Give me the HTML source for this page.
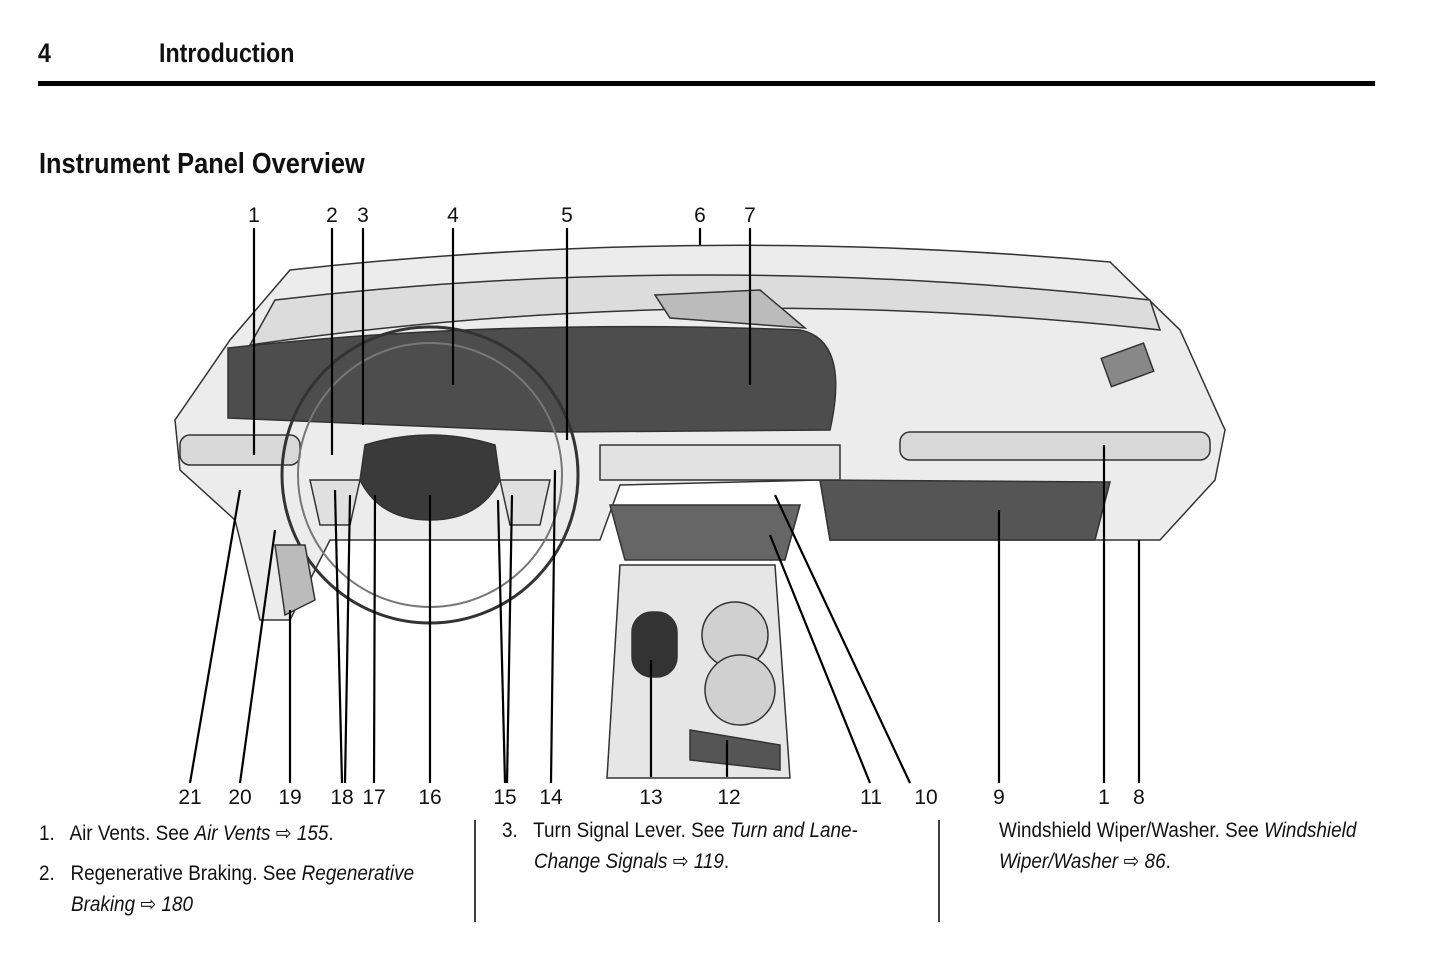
<!DOCTYPE html>
<html><head><meta charset="utf-8"><style>
body{margin:0;width:1445px;height:957px;background:#fff;position:relative;overflow:hidden;font-family:"Liberation Sans",sans-serif;color:#111}
.t{position:absolute;white-space:nowrap}
.h{font-weight:bold;font-size:27px;transform:scaleX(.86);transform-origin:left}
.b{font-size:21px;transform:scaleX(.9);transform-origin:left;line-height:31px}
i{font-style:italic}
</style></head><body>
<div class="t h" style="left:38px;top:38px">4</div>
<div class="t h" style="left:159px;top:38px">Introduction</div>
<div style="position:absolute;left:38px;top:81px;width:1337px;height:5px;background:#000"></div>
<div class="t h" style="left:39px;top:148px;font-size:29px;transform:scaleX(.875)">Instrument Panel Overview</div>
<svg width="1445" height="957" style="position:absolute;left:0;top:0" font-family="Liberation Sans" font-size="21" fill="#111">
<g stroke="#333" stroke-width="1.5">
<path d="M290 270 Q700 225 1110 262 L1180 330 L1225 430 L1215 480 L1160 540 L830 540 L820 480 L620 485 L600 540 L330 540 L290 620 L260 620 L235 520 L180 470 L175 420 L230 340 Z" fill="#ececec"/>
<path d="M275 300 Q700 250 1150 300 L1160 330 Q700 280 250 345 Z" fill="#dcdcdc"/>
<path d="M228 348 Q500 318 800 330 Q850 340 830 430 L560 432 L228 418 Z" fill="#4d4d4d"/>
<path d="M655 295 L760 290 L805 328 L670 318 Z" fill="#bbb"/>
<path d="M820 480 L1110 482 L1095 540 L830 540 Z" fill="#555"/>
<path d="M610 505 L800 505 L785 560 L625 560 Z" fill="#666"/>
<rect x="600" y="445" width="240" height="35" fill="#e2e2e2"/>
<rect x="900" y="432" width="310" height="28" rx="10" fill="#d8d8d8"/>
<rect x="180" y="435" width="120" height="30" rx="10" fill="#d8d8d8"/>
<path d="M620 565 L775 565 L790 778 L607 778 Z" fill="#e6e6e6"/>
<circle cx="735" cy="635" r="33" fill="#d0d0d0"/>
<circle cx="740" cy="690" r="35" fill="#d0d0d0"/>
<rect x="632" y="612" width="45" height="65" rx="20" fill="#333"/>
<path d="M690 730 L780 745 L780 770 L690 760 Z" fill="#555"/>
<circle cx="430" cy="475" r="148" fill="none" stroke="#333" stroke-width="3"/>
<circle cx="430" cy="475" r="132" fill="none" stroke="#777" stroke-width="2"/>
<path d="M365 445 Q430 425 495 445 L500 480 Q480 520 430 520 Q380 520 360 480 Z" fill="#3a3a3a"/>
<path d="M310 480 L360 480 L350 525 L320 525 Z M500 480 L550 480 L540 525 L510 525 Z" fill="#e0e0e0"/>
<rect x="1105" y="350" width="45" height="30" fill="#888" transform="rotate(-20 1127 365)"/>
<path d="M275 545 L305 545 L315 600 L285 615 Z" fill="#bbb"/>
</g>
<g stroke="#000" stroke-width="2.2" fill="none">
<path d="M254 228V455M332 228V455M363 228V425M453 228V385M567 228V440M700 228V245M750 228V385"/>
<path d="M190 783L240 490M240 783L275 530M290 783V610M342 783L335 490M345 783L350 495M374 783L375 495M430 783V495M505 783L498 500M507 783L512 495M551 783L555 470M870 783L770 535M910 783L775 495M999 783V510M1104 783V445M1139 783V540M651 777V660M727 777V740"/>
</g>
<g text-anchor="middle">
<text x="254" y="222">1</text><text x="332" y="222">2</text><text x="363" y="222">3</text><text x="453" y="222">4</text><text x="567" y="222">5</text><text x="700" y="222">6</text><text x="750" y="222">7</text>
<text x="190" y="804">21</text><text x="240" y="804">20</text><text x="290" y="804">19</text><text x="342" y="804">18</text><text x="374" y="804">17</text><text x="430" y="804">16</text><text x="505" y="804">15</text><text x="551" y="804">14</text><text x="651" y="804">13</text><text x="729" y="804">12</text><text x="871" y="804">11</text><text x="926" y="804">10</text><text x="999" y="804">9</text><text x="1104" y="804">1</text><text x="1139" y="804">8</text>
</g>
<path d="M475 820V922M939 820V922" stroke="#000" stroke-width="1.5"/>
</svg>
<div class="t b" style="left:39px;top:818px">1.&nbsp;&nbsp; Air Vents. See <i>Air Vents</i> ⇨ <i>155</i>.</div>
<div class="t b" style="left:39px;top:858px">2.&nbsp;&nbsp; Regenerative Braking. See <i>Regenerative</i></div>
<div class="t b" style="left:71px;top:889px"><i>Braking</i> ⇨ <i>180</i></div>
<div class="t b" style="left:502px;top:815px">3.&nbsp;&nbsp; Turn Signal Lever. See <i>Turn and Lane-</i></div>
<div class="t b" style="left:534px;top:846px"><i>Change Signals</i> ⇨ <i>119</i>.</div>
<div class="t b" style="left:999px;top:815px">Windshield Wiper/Washer. See <i>Windshield</i></div>
<div class="t b" style="left:999px;top:846px"><i>Wiper/Washer</i> ⇨ <i>86</i>.</div>
</body></html>
